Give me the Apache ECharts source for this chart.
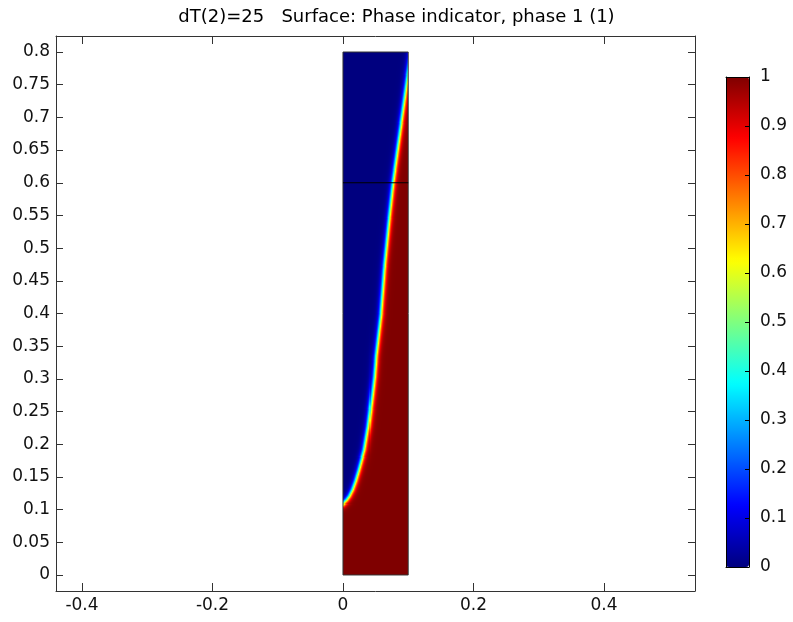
<!DOCTYPE html>
<html>
<head>
<meta charset="utf-8">
<script src="https://cdn.jsdelivr.net/npm/echarts@6/dist/echarts.min.js"></script>
<style>
  html, body { margin: 0; padding: 0; background: #fff; }
  #chart { width: 793px; height: 622px; }
</style>
</head>
<body>
<div id="chart"></div>
<script>
// ---- text and ticks ----
const titleText = 'dT(2)=25   Surface: Phase indicator, phase 1 (1)';
const xTicks = [-0.4, -0.2, 0, 0.2, 0.4];
const yTicks = [0, 0.05, 0.1, 0.15, 0.2, 0.25, 0.3, 0.35, 0.4, 0.45, 0.5, 0.55, 0.6, 0.65, 0.7, 0.75, 0.8];
const colorTicks = [0, 0.1, 0.2, 0.3, 0.4, 0.5, 0.6, 0.7, 0.8, 0.9, 1];
const colorInnerTicks = [0.1, 0.2, 0.3, 0.4, 0.5, 0.6, 0.7, 0.8, 0.9];

// ---- jet-like colour table of the phase indicator ----
const jetColors = ['#00007f', '#0000ff', '#007fff', '#00ffff', '#7fff7f', '#ffff00', '#ff7f00', '#ff0000', '#7f0000'];

// ---- geometry: rectangular column and the subdomain divider ----
const domainX = [0, 0.1];
const domainY = [0, 0.8];
const domainOutline = [[0, 0], [0.1, 0], [0.1, 0.8], [0, 0.8], [0, 0]];
const dividerLine = [[0, 0.6], [0.1, 0.6]];

// ---- interface (phase = 0.5 contour) between phase 0 (upper left) and phase 1 (lower right) ----
const interfaceY = [0.105, 0.1085, 0.1105, 0.1145, 0.120, 0.130, 0.144, 0.161, 0.191, 0.227, 0.268, 0.303, 0.335, 0.400, 0.467, 0.538, 0.602, 0.681, 0.767, 0.800];
const interfaceX = [-0.006, 0.000, 0.002, 0.006, 0.010, 0.015, 0.020, 0.025, 0.033, 0.039, 0.044, 0.048, 0.0505, 0.058, 0.063, 0.070, 0.077, 0.088, 0.100, 0.105];
const interfaceWidth = 0.0048;

// mesh resolution of the surface
const nx = 64, ny = 512;

// ---- axis ranges ----
const xRange = [-0.4398, 0.5395];
const yRange = [-0.0245, 0.8245];

function distToInterface(px, py) {
  let best = Infinity;
  for (let k = 0; k < interfaceX.length - 1; k++) {
    const ax = interfaceX[k], ay = interfaceY[k];
    const bx = interfaceX[k + 1], by = interfaceY[k + 1];
    const dx = bx - ax, dy = by - ay;
    let t = ((px - ax) * dx + (py - ay) * dy) / (dx * dx + dy * dy);
    t = Math.max(0, Math.min(1, t));
    const qx = ax + t * dx - px, qy = ay + t * dy - py;
    const d = Math.sqrt(qx * qx + qy * qy);
    if (d < best) best = d;
  }
  return best;
}

function sideOfInterface(px, py) {
  const n = interfaceY.length;
  if (py <= interfaceY[0]) return 1;
  if (py >= interfaceY[n - 1]) return -1;
  for (let k = 0; k < n - 1; k++) {
    if (py >= interfaceY[k] && py <= interfaceY[k + 1]) {
      const f = (py - interfaceY[k]) / (interfaceY[k + 1] - interfaceY[k]);
      const xi = interfaceX[k] + f * (interfaceX[k + 1] - interfaceX[k]);
      return px >= xi ? 1 : -1;
    }
  }
  return -1;
}

const cellW = (domainX[1] - domainX[0]) / nx;
const cellH = (domainY[1] - domainY[0]) / ny;
const phaseField = [];
for (let j = 0; j < ny; j++) {
  const yc = domainY[0] + (j + 0.5) * cellH;
  for (let i = 0; i < nx; i++) {
    const xc = domainX[0] + (i + 0.5) * cellW;
    const s = sideOfInterface(xc, yc) * distToInterface(xc, yc);
    const v = 0.5 * (1 + Math.tanh(s / interfaceWidth));
    phaseField.push([xc, yc, v]);
  }
}

const fmt = v => String(+Number(v).toFixed(2));
const font = 'DejaVu Sans';
const frameColor = '#333';
const labelSize = 17;

function frameAxis(extra) {
  return Object.assign({
    type: 'value',
    axisLine: { show: true, onZero: false, lineStyle: { color: frameColor, width: 1 } },
    splitLine: { show: false },
    axisPointer: { show: false }
  }, extra);
}

const chart = echarts.init(document.getElementById('chart'), null, { renderer: 'canvas' });
chart.setOption({
  animation: false,
  backgroundColor: '#fff',
  title: {
    text: titleText,
    left: 'center',
    top: 3,
    textStyle: { fontFamily: font, fontSize: 18, fontWeight: 'normal', color: '#000' }
  },
  grid: [
    { left: 56, top: 36, width: 639, height: 555 },
    { left: 726, top: 77, width: 23, height: 490 }
  ],
  xAxis: [
    frameAxis({
      gridIndex: 0, position: 'bottom', min: xRange[0], max: xRange[1],
      axisTick: { show: true, inside: true, length: 8, customValues: xTicks, lineStyle: { color: frameColor } },
      axisLabel: { show: true, customValues: xTicks, formatter: fmt, margin: 6, fontSize: labelSize, fontFamily: font, color: '#111' }
    }),
    frameAxis({
      gridIndex: 0, position: 'top', min: xRange[0], max: xRange[1],
      axisTick: { show: true, inside: true, length: 8, customValues: xTicks, lineStyle: { color: frameColor } },
      axisLabel: { show: false }
    }),
    frameAxis({
      gridIndex: 1, position: 'bottom', min: 0, max: 1, z: 10,
      axisLine: { show: true, onZero: false, lineStyle: { color: '#000', width: 1 } },
      axisTick: { show: false }, axisLabel: { show: false }
    }),
    frameAxis({
      gridIndex: 1, position: 'top', min: 0, max: 1, z: 10,
      axisLine: { show: true, onZero: false, lineStyle: { color: '#000', width: 1 } },
      axisTick: { show: false }, axisLabel: { show: false }
    })
  ],
  yAxis: [
    frameAxis({
      gridIndex: 0, position: 'left', min: yRange[0], max: yRange[1],
      axisTick: { show: true, inside: true, length: 7, customValues: yTicks, lineStyle: { color: frameColor } },
      axisLabel: { show: true, customValues: yTicks, formatter: fmt, margin: 6, fontSize: labelSize, fontFamily: font, color: '#111' }
    }),
    frameAxis({
      gridIndex: 0, position: 'right', min: yRange[0], max: yRange[1],
      axisTick: { show: true, inside: true, length: 7, customValues: yTicks, lineStyle: { color: frameColor } },
      axisLabel: { show: false }
    }),
    frameAxis({
      gridIndex: 1, position: 'right', min: 0, max: 1, z: 10,
      axisLine: { show: true, onZero: false, lineStyle: { color: '#000', width: 1 } },
      axisTick: { show: true, inside: true, length: 4, customValues: colorInnerTicks, lineStyle: { color: '#000' } },
      axisLabel: { show: true, customValues: colorTicks, formatter: fmt, margin: 11, fontSize: labelSize, fontFamily: font, color: '#111' }
    }),
    frameAxis({
      gridIndex: 1, position: 'left', min: 0, max: 1, z: 10,
      axisLine: { show: true, onZero: false, lineStyle: { color: '#000', width: 1 } },
      axisTick: { show: false }, axisLabel: { show: false }
    })
  ],
  visualMap: {
    type: 'continuous',
    min: 0, max: 1,
    dimension: 2,
    seriesIndex: 0,
    inRange: { color: jetColors },
    show: true,
    calculable: false,
    hoverLink: false,
    text: null,
    left: 726, top: 77,
    itemWidth: 23, itemHeight: 490,
    padding: 0,
    borderWidth: 0
  },
  series: [
    {
      type: 'custom',
      xAxisIndex: 0, yAxisIndex: 0,
      data: phaseField,
      encode: { x: 0, y: 1 },
      silent: true,
      progressive: 0,
      progressiveThreshold: 1e9,
      renderItem: function (params, api) {
        const x = api.value(0), y = api.value(1);
        const p0 = api.coord([x - cellW / 2, y + cellH / 2]);
        const p1 = api.coord([x + cellW / 2, y - cellH / 2]);
        const l = Math.round(p0[0]), r = Math.round(p1[0]);
        const t = Math.round(p0[1]), b = Math.round(p1[1]);
        return {
          type: 'rect',
          shape: { x: l, y: t, width: Math.max(1, r - l), height: Math.max(1, b - t) },
          style: { fill: api.visual('color') }
        };
      }
    },
    {
      type: 'line',
      xAxisIndex: 0, yAxisIndex: 0,
      data: domainOutline,
      symbol: 'none', silent: true, z: 5,
      lineStyle: { color: '#333', width: 1 }
    },
    {
      type: 'line',
      xAxisIndex: 0, yAxisIndex: 0,
      data: dividerLine,
      symbol: 'none', silent: true, z: 5,
      lineStyle: { color: '#000', width: 1 }
    }
  ]
});
</script>
</body>
</html>
